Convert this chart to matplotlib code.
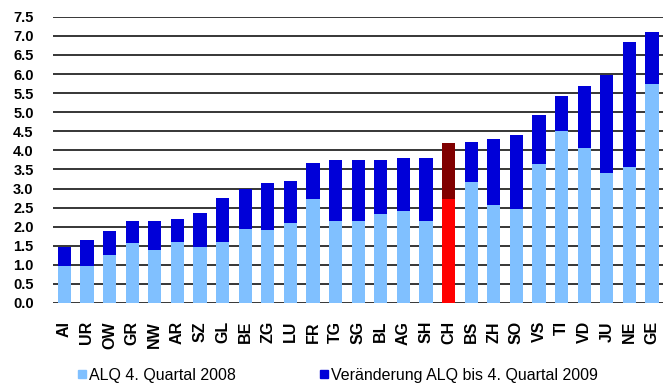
import matplotlib.pyplot as plt
from matplotlib.lines import Line2D
import numpy as np

plt.rcParams['font.family'] = ['Liberation Sans', 'DejaVu Sans']

kantone = ['AI', 'UR', 'OW', 'GR', 'NW', 'AR', 'SZ', 'GL', 'BE', 'ZG', 'LU', 'FR', 'TG', 'SG',
           'BL', 'AG', 'SH', 'CH', 'BS', 'ZH', 'SO', 'VS', 'TI', 'VD', 'JU', 'NE', 'GE']
alq_2008 = [0.97, 0.97, 1.27, 1.56, 1.40, 1.59, 1.47, 1.59, 1.93, 1.90, 2.10, 2.72, 2.14, 2.14,
            2.34, 2.40, 2.14, 2.72, 3.17, 2.56, 2.46, 3.63, 4.50, 4.07, 3.40, 3.57, 5.73]
alq_2009 = [1.46, 1.64, 1.88, 2.15, 2.15, 2.19, 2.35, 2.75, 2.99, 3.14, 3.19, 3.67, 3.74, 3.74,
            3.74, 3.79, 3.81, 4.19, 4.22, 4.30, 4.41, 4.92, 5.42, 5.69, 5.97, 6.83, 7.11]
y_ticks = np.arange(0, 7.51, 0.5)

basis = np.array(alq_2008)
diff = np.array(alq_2009) - basis
x = np.arange(len(kantone))

c_hell = ['#80c0ff'] * len(kantone)
c_dunkel = ['#0000d8'] * len(kantone)
i_ch = kantone.index('CH')
c_hell[i_ch] = '#ff0000'
c_dunkel[i_ch] = '#800000'

fig = plt.figure(figsize=(6.72, 3.83), dpi=100)
ax = fig.add_axes([0.079, 0.209, 0.908, 0.747])

ax.bar(x, basis, width=0.58, color=c_hell, zorder=3)
ax.bar(x, diff, bottom=basis, width=0.58, color=c_dunkel, zorder=3)

ax.set_xlim(-0.5, len(kantone) - 0.5)
ax.set_ylim(0, 7.5)
ax.set_yticks(y_ticks)
ax.set_yticklabels(['%.1f' % v for v in y_ticks], fontweight='bold', fontsize=10.5)
ax.set_xticks(x)
ax.set_xticklabels(kantone, rotation=90, fontweight='bold', fontsize=11.5)
ax.tick_params(axis='x', length=0, pad=13)
ax.tick_params(axis='y', length=0, pad=14)
ax.yaxis.grid(True, color='black', linewidth=1.1, zorder=0)
ax.set_axisbelow(True)
for s in ['top', 'right', 'left', 'bottom']:
    ax.spines[s].set_visible(False)

# zwei Legenden nebeneinander unter der Grafik
labels = ['ALQ 4. Quartal 2008', 'Veränderung ALQ bis 4. Quartal 2009']
farben = ['#80c0ff', '#0000d8']
x_pos = [0.113, 0.474]
for lab, col, xp in zip(labels, farben, x_pos):
    h = Line2D([], [], marker='s', color=col, linestyle='none', markersize=6)
    leg = fig.legend([h], [lab], loc='center left', bbox_to_anchor=(xp, 0.02),
                     frameon=False, fontsize=11.5, handletextpad=0.1, handlelength=0.7,
                     borderpad=0, borderaxespad=0)

fig.savefig('out.png', dpi=100)
